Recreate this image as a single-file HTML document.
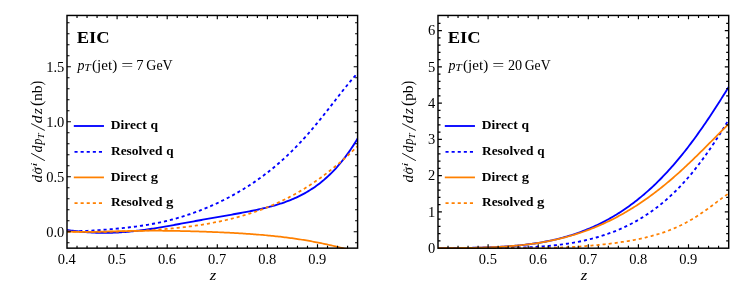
<!DOCTYPE html>
<html><head><meta charset="utf-8"><title>EIC</title>
<style>
html,body{margin:0;padding:0;background:#fff;}
body{width:753px;height:306px;overflow:hidden;}
svg{display:block;will-change:transform;}
text{font-family:"Liberation Serif",serif;fill:#000;}
.tk{font-size:14.5px;}
.b{font-weight:bold;}
.it{font-style:italic;}
</style></head>
<body>
<svg width="753" height="306" viewBox="0 0 753 306">
<rect width="753" height="306" fill="#fff"/>
<clipPath id="c1"><rect x="66.40" y="14.85" width="291.80" height="234.20"/></clipPath>
<g clip-path="url(#c1)" fill="none" stroke-linejoin="round">
<path d="M67.00,229.96 L68.46,230.17 L69.92,230.37 L71.38,230.56 L72.84,230.75 L74.30,230.93 L75.76,231.11 L77.22,231.28 L78.68,231.44 L80.14,231.59 L81.60,231.73 L83.06,231.87 L84.52,232.00 L85.98,232.12 L87.44,232.23 L88.90,232.33 L90.36,232.43 L91.83,232.51 L93.29,232.59 L94.75,232.65 L96.21,232.71 L97.67,232.76 L99.13,232.80 L100.59,232.83 L102.05,232.85 L103.51,232.86 L104.97,232.86 L106.43,232.85 L107.89,232.84 L109.35,232.81 L110.81,232.78 L112.27,232.74 L113.73,232.69 L115.19,232.63 L116.65,232.56 L118.11,232.48 L119.57,232.40 L121.03,232.30 L122.49,232.20 L123.95,232.09 L125.41,231.98 L126.87,231.85 L128.33,231.72 L129.79,231.58 L131.25,231.44 L132.71,231.28 L134.17,231.12 L135.63,230.96 L137.09,230.79 L138.55,230.61 L140.02,230.42 L141.48,230.24 L142.94,230.04 L144.40,229.84 L145.86,229.64 L147.32,229.42 L148.78,229.21 L150.24,228.99 L151.70,228.77 L153.16,228.54 L154.62,228.31 L156.08,228.07 L157.54,227.84 L159.00,227.59 L160.46,227.35 L161.92,227.10 L163.38,226.85 L164.84,226.60 L166.30,226.34 L167.76,226.09 L169.22,225.83 L170.68,225.57 L172.14,225.31 L173.60,225.04 L175.06,224.78 L176.52,224.51 L177.98,224.25 L179.44,223.98 L180.90,223.71 L182.36,223.44 L183.82,223.17 L185.28,222.91 L186.74,222.64 L188.21,222.37 L189.67,222.10 L191.13,221.83 L192.59,221.56 L194.05,221.30 L195.51,221.03 L196.97,220.76 L198.43,220.50 L199.89,220.23 L201.35,219.97 L202.81,219.70 L204.27,219.44 L205.73,219.18 L207.19,218.91 L208.65,218.65 L210.11,218.39 L211.57,218.13 L213.03,217.88 L214.49,217.62 L215.95,217.36 L217.41,217.10 L218.87,216.85 L220.33,216.59 L221.79,216.34 L223.25,216.08 L224.71,215.82 L226.17,215.57 L227.63,215.31 L229.09,215.06 L230.55,214.80 L232.01,214.54 L233.47,214.28 L234.93,214.02 L236.39,213.76 L237.86,213.50 L239.32,213.24 L240.78,212.97 L242.24,212.70 L243.70,212.43 L245.16,212.16 L246.62,211.88 L248.08,211.60 L249.54,211.32 L251.00,211.03 L252.46,210.73 L253.92,210.44 L255.38,210.13 L256.84,209.82 L258.30,209.51 L259.76,209.19 L261.22,208.86 L262.68,208.52 L264.14,208.18 L265.60,207.83 L267.06,207.47 L268.52,207.10 L269.98,206.72 L271.44,206.33 L272.90,205.93 L274.36,205.52 L275.82,205.09 L277.28,204.65 L278.74,204.20 L280.20,203.74 L281.66,203.26 L283.12,202.77 L284.58,202.26 L286.05,201.73 L287.51,201.19 L288.97,200.63 L290.43,200.05 L291.89,199.46 L293.35,198.84 L294.81,198.20 L296.27,197.54 L297.73,196.86 L299.19,196.15 L300.65,195.43 L302.11,194.67 L303.57,193.89 L305.03,193.09 L306.49,192.26 L307.95,191.40 L309.41,190.51 L310.87,189.59 L312.33,188.64 L313.79,187.66 L315.25,186.65 L316.71,185.61 L318.17,184.52 L319.63,183.41 L321.09,182.26 L322.55,181.07 L324.01,179.84 L325.47,178.57 L326.93,177.27 L328.39,175.92 L329.85,174.53 L331.31,173.09 L332.77,171.62 L334.24,170.09 L335.70,168.52 L337.16,166.90 L338.62,165.23 L340.08,163.52 L341.54,161.75 L343.00,159.93 L344.46,158.05 L345.92,156.12 L347.38,154.14 L348.84,152.10 L350.30,150.00 L351.76,147.84 L353.22,145.62 L354.68,143.34 L356.14,141.00 L357.60,138.59" stroke="#0000ff" stroke-width="1.85"/>
<path d="M67.00,230.79 L68.46,230.88 L69.92,230.96 L71.38,231.01 L72.84,231.06 L74.30,231.08 L75.76,231.09 L77.22,231.09 L78.68,231.08 L80.14,231.06 L81.60,231.02 L83.06,230.98 L84.52,230.93 L85.98,230.87 L87.44,230.81 L88.90,230.74 L90.36,230.67 L91.83,230.58 L93.29,230.50 L94.75,230.41 L96.21,230.32 L97.67,230.22 L99.13,230.12 L100.59,230.01 L102.05,229.91 L103.51,229.80 L104.97,229.68 L106.43,229.57 L107.89,229.45 L109.35,229.33 L110.81,229.20 L112.27,229.08 L113.73,228.95 L115.19,228.81 L116.65,228.68 L118.11,228.54 L119.57,228.39 L121.03,228.25 L122.49,228.10 L123.95,227.94 L125.41,227.78 L126.87,227.62 L128.33,227.46 L129.79,227.28 L131.25,227.11 L132.71,226.93 L134.17,226.74 L135.63,226.55 L137.09,226.35 L138.55,226.15 L140.02,225.94 L141.48,225.73 L142.94,225.51 L144.40,225.28 L145.86,225.05 L147.32,224.81 L148.78,224.56 L150.24,224.30 L151.70,224.04 L153.16,223.77 L154.62,223.49 L156.08,223.21 L157.54,222.92 L159.00,222.62 L160.46,222.31 L161.92,221.99 L163.38,221.66 L164.84,221.33 L166.30,220.98 L167.76,220.63 L169.22,220.27 L170.68,219.90 L172.14,219.52 L173.60,219.14 L175.06,218.74 L176.52,218.33 L177.98,217.92 L179.44,217.49 L180.90,217.06 L182.36,216.61 L183.82,216.16 L185.28,215.70 L186.74,215.23 L188.21,214.74 L189.67,214.25 L191.13,213.75 L192.59,213.24 L194.05,212.72 L195.51,212.19 L196.97,211.65 L198.43,211.10 L199.89,210.54 L201.35,209.97 L202.81,209.39 L204.27,208.80 L205.73,208.20 L207.19,207.59 L208.65,206.97 L210.11,206.35 L211.57,205.71 L213.03,205.06 L214.49,204.40 L215.95,203.73 L217.41,203.05 L218.87,202.36 L220.33,201.65 L221.79,200.94 L223.25,200.22 L224.71,199.49 L226.17,198.74 L227.63,197.99 L229.09,197.22 L230.55,196.45 L232.01,195.66 L233.47,194.86 L234.93,194.05 L236.39,193.22 L237.86,192.39 L239.32,191.54 L240.78,190.68 L242.24,189.81 L243.70,188.93 L245.16,188.03 L246.62,187.12 L248.08,186.20 L249.54,185.26 L251.00,184.31 L252.46,183.35 L253.92,182.37 L255.38,181.38 L256.84,180.37 L258.30,179.35 L259.76,178.31 L261.22,177.26 L262.68,176.19 L264.14,175.10 L265.60,174.00 L267.06,172.89 L268.52,171.75 L269.98,170.60 L271.44,169.43 L272.90,168.25 L274.36,167.04 L275.82,165.82 L277.28,164.58 L278.74,163.32 L280.20,162.04 L281.66,160.75 L283.12,159.43 L284.58,158.10 L286.05,156.74 L287.51,155.37 L288.97,153.97 L290.43,152.56 L291.89,151.12 L293.35,149.67 L294.81,148.19 L296.27,146.70 L297.73,145.18 L299.19,143.64 L300.65,142.09 L302.11,140.51 L303.57,138.91 L305.03,137.30 L306.49,135.66 L307.95,134.00 L309.41,132.33 L310.87,130.64 L312.33,128.93 L313.79,127.20 L315.25,125.45 L316.71,123.69 L318.17,121.91 L319.63,120.12 L321.09,118.31 L322.55,116.49 L324.01,114.66 L325.47,112.82 L326.93,110.97 L328.39,109.11 L329.85,107.24 L331.31,105.37 L332.77,103.49 L334.24,101.61 L335.70,99.73 L337.16,97.86 L338.62,95.98 L340.08,94.12 L341.54,92.26 L343.00,90.41 L344.46,88.58 L345.92,86.76 L347.38,84.96 L348.84,83.18 L350.30,81.44 L351.76,79.72 L353.22,78.03 L354.68,76.38 L356.14,74.77 L357.60,73.21" stroke="#0000ff" stroke-width="1.85" stroke-dasharray="3.1 3"/>
<path d="M67.00,231.53 L68.46,231.61 L69.92,231.68 L71.38,231.73 L72.84,231.78 L74.30,231.83 L75.76,231.86 L77.22,231.89 L78.68,231.91 L80.14,231.92 L81.60,231.93 L83.06,231.93 L84.52,231.93 L85.98,231.92 L87.44,231.91 L88.90,231.90 L90.36,231.88 L91.83,231.86 L93.29,231.83 L94.75,231.80 L96.21,231.77 L97.67,231.74 L99.13,231.71 L100.59,231.68 L102.05,231.64 L103.51,231.60 L104.97,231.57 L106.43,231.53 L107.89,231.49 L109.35,231.45 L110.81,231.41 L112.27,231.37 L113.73,231.33 L115.19,231.29 L116.65,231.26 L118.11,231.22 L119.57,231.18 L121.03,231.15 L122.49,231.11 L123.95,231.08 L125.41,231.05 L126.87,231.02 L128.33,230.99 L129.79,230.96 L131.25,230.93 L132.71,230.91 L134.17,230.88 L135.63,230.86 L137.09,230.84 L138.55,230.82 L140.02,230.80 L141.48,230.79 L142.94,230.77 L144.40,230.76 L145.86,230.75 L147.32,230.74 L148.78,230.74 L150.24,230.73 L151.70,230.73 L153.16,230.73 L154.62,230.73 L156.08,230.73 L157.54,230.73 L159.00,230.74 L160.46,230.74 L161.92,230.75 L163.38,230.76 L164.84,230.78 L166.30,230.79 L167.76,230.81 L169.22,230.82 L170.68,230.84 L172.14,230.86 L173.60,230.88 L175.06,230.91 L176.52,230.93 L177.98,230.96 L179.44,230.99 L180.90,231.02 L182.36,231.05 L183.82,231.08 L185.28,231.12 L186.74,231.15 L188.21,231.19 L189.67,231.22 L191.13,231.26 L192.59,231.30 L194.05,231.35 L195.51,231.39 L196.97,231.43 L198.43,231.48 L199.89,231.53 L201.35,231.57 L202.81,231.62 L204.27,231.68 L205.73,231.73 L207.19,231.78 L208.65,231.84 L210.11,231.89 L211.57,231.95 L213.03,232.01 L214.49,232.07 L215.95,232.13 L217.41,232.19 L218.87,232.25 L220.33,232.32 L221.79,232.39 L223.25,232.45 L224.71,232.52 L226.17,232.59 L227.63,232.67 L229.09,232.74 L230.55,232.82 L232.01,232.89 L233.47,232.97 L234.93,233.05 L236.39,233.14 L237.86,233.22 L239.32,233.31 L240.78,233.40 L242.24,233.49 L243.70,233.58 L245.16,233.67 L246.62,233.77 L248.08,233.87 L249.54,233.97 L251.00,234.07 L252.46,234.18 L253.92,234.29 L255.38,234.40 L256.84,234.51 L258.30,234.63 L259.76,234.75 L261.22,234.87 L262.68,234.99 L264.14,235.12 L265.60,235.25 L267.06,235.38 L268.52,235.52 L269.98,235.66 L271.44,235.80 L272.90,235.95 L274.36,236.10 L275.82,236.26 L277.28,236.42 L278.74,236.58 L280.20,236.74 L281.66,236.91 L283.12,237.09 L284.58,237.26 L286.05,237.45 L287.51,237.63 L288.97,237.82 L290.43,238.02 L291.89,238.22 L293.35,238.42 L294.81,238.63 L296.27,238.84 L297.73,239.06 L299.19,239.28 L300.65,239.51 L302.11,239.74 L303.57,239.97 L305.03,240.22 L306.49,240.46 L307.95,240.71 L309.41,240.97 L310.87,241.23 L312.33,241.50 L313.79,241.77 L315.25,242.04 L316.71,242.33 L318.17,242.61 L319.63,242.90 L321.09,243.20 L322.55,243.50 L324.01,243.81 L325.47,244.12 L326.93,244.44 L328.39,244.76 L329.85,245.08 L331.31,245.42 L332.77,245.75 L334.24,246.09 L335.70,246.43 L337.16,246.78 L338.62,247.14 L340.08,247.49 L341.54,247.85 L343.00,248.22 L344.46,248.59 L345.92,248.96 L347.38,249.33 L348.84,249.71 L350.30,250.09 L351.76,250.48 L353.22,250.86 L354.68,251.25 L356.14,251.64 L357.60,252.04" stroke="#ff8000" stroke-width="1.75"/>
<path d="M67.00,231.56 L68.46,231.59 L69.92,231.63 L71.38,231.66 L72.84,231.69 L74.30,231.72 L75.76,231.74 L77.22,231.76 L78.68,231.79 L80.14,231.81 L81.60,231.82 L83.06,231.84 L84.52,231.85 L85.98,231.87 L87.44,231.88 L88.90,231.89 L90.36,231.89 L91.83,231.90 L93.29,231.90 L94.75,231.90 L96.21,231.89 L97.67,231.89 L99.13,231.88 L100.59,231.88 L102.05,231.86 L103.51,231.85 L104.97,231.84 L106.43,231.82 L107.89,231.80 L109.35,231.78 L110.81,231.75 L112.27,231.73 L113.73,231.70 L115.19,231.67 L116.65,231.64 L118.11,231.60 L119.57,231.56 L121.03,231.52 L122.49,231.48 L123.95,231.44 L125.41,231.39 L126.87,231.34 L128.33,231.29 L129.79,231.23 L131.25,231.18 L132.71,231.12 L134.17,231.05 L135.63,230.99 L137.09,230.92 L138.55,230.85 L140.02,230.78 L141.48,230.71 L142.94,230.63 L144.40,230.55 L145.86,230.46 L147.32,230.38 L148.78,230.29 L150.24,230.20 L151.70,230.10 L153.16,230.01 L154.62,229.90 L156.08,229.80 L157.54,229.69 L159.00,229.58 L160.46,229.47 L161.92,229.36 L163.38,229.24 L164.84,229.11 L166.30,228.99 L167.76,228.86 L169.22,228.72 L170.68,228.59 L172.14,228.45 L173.60,228.30 L175.06,228.15 L176.52,228.00 L177.98,227.85 L179.44,227.69 L180.90,227.52 L182.36,227.36 L183.82,227.19 L185.28,227.01 L186.74,226.83 L188.21,226.64 L189.67,226.46 L191.13,226.26 L192.59,226.06 L194.05,225.86 L195.51,225.65 L196.97,225.44 L198.43,225.22 L199.89,225.00 L201.35,224.77 L202.81,224.54 L204.27,224.30 L205.73,224.06 L207.19,223.81 L208.65,223.55 L210.11,223.29 L211.57,223.02 L213.03,222.75 L214.49,222.47 L215.95,222.19 L217.41,221.90 L218.87,221.60 L220.33,221.29 L221.79,220.98 L223.25,220.66 L224.71,220.34 L226.17,220.01 L227.63,219.67 L229.09,219.32 L230.55,218.97 L232.01,218.61 L233.47,218.24 L234.93,217.87 L236.39,217.48 L237.86,217.09 L239.32,216.69 L240.78,216.28 L242.24,215.87 L243.70,215.44 L245.16,215.01 L246.62,214.57 L248.08,214.12 L249.54,213.66 L251.00,213.19 L252.46,212.71 L253.92,212.22 L255.38,211.72 L256.84,211.22 L258.30,210.70 L259.76,210.17 L261.22,209.64 L262.68,209.09 L264.14,208.53 L265.60,207.97 L267.06,207.39 L268.52,206.80 L269.98,206.20 L271.44,205.59 L272.90,204.97 L274.36,204.33 L275.82,203.69 L277.28,203.03 L278.74,202.37 L280.20,201.69 L281.66,201.00 L283.12,200.29 L284.58,199.58 L286.05,198.85 L287.51,198.11 L288.97,197.36 L290.43,196.59 L291.89,195.82 L293.35,195.03 L294.81,194.22 L296.27,193.41 L297.73,192.58 L299.19,191.73 L300.65,190.88 L302.11,190.01 L303.57,189.12 L305.03,188.23 L306.49,187.31 L307.95,186.39 L309.41,185.45 L310.87,184.50 L312.33,183.53 L313.79,182.55 L315.25,181.55 L316.71,180.54 L318.17,179.51 L319.63,178.47 L321.09,177.42 L322.55,176.35 L324.01,175.26 L325.47,174.17 L326.93,173.05 L328.39,171.92 L329.85,170.78 L331.31,169.62 L332.77,168.44 L334.24,167.25 L335.70,166.05 L337.16,164.83 L338.62,163.59 L340.08,162.34 L341.54,161.07 L343.00,159.79 L344.46,158.50 L345.92,157.18 L347.38,155.86 L348.84,154.51 L350.30,153.15 L351.76,151.78 L353.22,150.39 L354.68,148.99 L356.14,147.57 L357.60,146.13" stroke="#ff8000" stroke-width="1.75" stroke-dasharray="3.1 3"/>
</g>
<rect x="67.0" y="15.45" width="290.60" height="232.70" fill="none" stroke="#000" stroke-width="1.45"/>
<path d="M117.10,248.15 v-3.9 M117.10,15.45 v3.9 M167.20,248.15 v-3.9 M167.20,15.45 v3.9 M217.30,248.15 v-3.9 M217.30,15.45 v3.9 M267.40,248.15 v-3.9 M267.40,15.45 v3.9 M317.50,248.15 v-3.9 M317.50,15.45 v3.9 M77.02,248.15 v-2.5 M77.02,15.45 v2.5 M87.04,248.15 v-2.5 M87.04,15.45 v2.5 M97.06,248.15 v-2.5 M97.06,15.45 v2.5 M107.08,248.15 v-2.5 M107.08,15.45 v2.5 M127.12,248.15 v-2.5 M127.12,15.45 v2.5 M137.14,248.15 v-2.5 M137.14,15.45 v2.5 M147.16,248.15 v-2.5 M147.16,15.45 v2.5 M157.18,248.15 v-2.5 M157.18,15.45 v2.5 M177.22,248.15 v-2.5 M177.22,15.45 v2.5 M187.24,248.15 v-2.5 M187.24,15.45 v2.5 M197.26,248.15 v-2.5 M197.26,15.45 v2.5 M207.28,248.15 v-2.5 M207.28,15.45 v2.5 M227.32,248.15 v-2.5 M227.32,15.45 v2.5 M237.34,248.15 v-2.5 M237.34,15.45 v2.5 M247.36,248.15 v-2.5 M247.36,15.45 v2.5 M257.38,248.15 v-2.5 M257.38,15.45 v2.5 M277.42,248.15 v-2.5 M277.42,15.45 v2.5 M287.44,248.15 v-2.5 M287.44,15.45 v2.5 M297.46,248.15 v-2.5 M297.46,15.45 v2.5 M307.48,248.15 v-2.5 M307.48,15.45 v2.5 M327.52,248.15 v-2.5 M327.52,15.45 v2.5 M337.54,248.15 v-2.5 M337.54,15.45 v2.5 M347.56,248.15 v-2.5 M347.56,15.45 v2.5 M67.0,231.75 h3.9 M357.6,231.75 h-3.9 M67.0,176.75 h3.9 M357.6,176.75 h-3.9 M67.0,121.75 h3.9 M357.6,121.75 h-3.9 M67.0,66.75 h3.9 M357.6,66.75 h-3.9 M67.0,242.75 h2.5 M357.6,242.75 h-2.5 M67.0,220.75 h2.5 M357.6,220.75 h-2.5 M67.0,209.75 h2.5 M357.6,209.75 h-2.5 M67.0,198.75 h2.5 M357.6,198.75 h-2.5 M67.0,187.75 h2.5 M357.6,187.75 h-2.5 M67.0,165.75 h2.5 M357.6,165.75 h-2.5 M67.0,154.75 h2.5 M357.6,154.75 h-2.5 M67.0,143.75 h2.5 M357.6,143.75 h-2.5 M67.0,132.75 h2.5 M357.6,132.75 h-2.5 M67.0,110.75 h2.5 M357.6,110.75 h-2.5 M67.0,99.75 h2.5 M357.6,99.75 h-2.5 M67.0,88.75 h2.5 M357.6,88.75 h-2.5 M67.0,77.75 h2.5 M357.6,77.75 h-2.5 M67.0,55.75 h2.5 M357.6,55.75 h-2.5 M67.0,44.75 h2.5 M357.6,44.75 h-2.5 M67.0,33.75 h2.5 M357.6,33.75 h-2.5 M67.0,22.75 h2.5 M357.6,22.75 h-2.5" stroke="#000" stroke-width="1.15" fill="none"/>
<path d="M73.80,126.0 H103.95" stroke="#0000ff" stroke-width="1.85" fill="none"/>
<text transform="translate(110.83,129.10) scale(1.084,1.000)" class="b" style="font-size:12.5px">Direct</text>
<text transform="translate(150.56,129.10) scale(1.082,1.000)" class="b" style="font-size:12.5px">q</text>
<path d="M74.50,151.8 H103.95" stroke="#0000ff" stroke-width="1.85" stroke-dasharray="3.1 3" fill="none"/>
<text transform="translate(110.93,154.90) scale(1.076,1.000)" class="b" style="font-size:12.5px">Resolved</text>
<text transform="translate(166.27,154.90) scale(1.051,1.000)" class="b" style="font-size:12.5px">q</text>
<path d="M73.80,177.4 H103.95" stroke="#ff8000" stroke-width="1.75" fill="none"/>
<text transform="translate(110.83,180.50) scale(1.084,1.000)" class="b" style="font-size:12.5px">Direct</text>
<text transform="translate(150.76,180.50) scale(1.165,1.000)" class="b" style="font-size:12.5px">g</text>
<path d="M74.50,203.1 H103.95" stroke="#ff8000" stroke-width="1.75" stroke-dasharray="3.1 3" fill="none"/>
<text transform="translate(110.93,206.20) scale(1.076,1.000)" class="b" style="font-size:12.5px">Resolved</text>
<text transform="translate(165.96,206.20) scale(1.183,1.000)" class="b" style="font-size:12.5px">g</text>
<text transform="translate(76.73,42.70) scale(1.089,1.000)" class="b" style="font-size:17px">EIC</text>
<text transform="translate(77.38,70.00) scale(0.897,1.000)" class="it" style="font-size:15.6px">p</text>
<text transform="translate(84.14,71.00) scale(1.219,0.976)" class="it" style="font-size:9.6px">T</text>
<text transform="translate(92.07,70.00) scale(0.967,1.000)" style="font-size:15.6px">(jet)</text>
<text transform="translate(121.28,70.00) scale(1.366,1.000)" style="font-size:15.6px">=</text>
<text transform="translate(136.26,70.00) scale(0.941,1.000)" style="font-size:15.6px">7</text>
<text transform="translate(146.34,70.00) scale(0.894,1.000)" style="font-size:15.6px">GeV</text>
<text x="66.80" y="264.0" class="tk" text-anchor="middle">0.4</text>
<text x="116.90" y="264.0" class="tk" text-anchor="middle">0.5</text>
<text x="167.00" y="264.0" class="tk" text-anchor="middle">0.6</text>
<text x="217.10" y="264.0" class="tk" text-anchor="middle">0.7</text>
<text x="267.20" y="264.0" class="tk" text-anchor="middle">0.8</text>
<text x="317.30" y="264.0" class="tk" text-anchor="middle">0.9</text>
<text x="64.30" y="236.60" class="tk" text-anchor="end">0.0</text>
<text x="64.30" y="181.60" class="tk" text-anchor="end">0.5</text>
<text x="64.30" y="126.60" class="tk" text-anchor="end">1.0</text>
<text x="64.30" y="71.60" class="tk" text-anchor="end">1.5</text>
<text transform="translate(209.84,279.60) scale(1.120,1.000)" class="it" style="font-size:14.8px">z</text>
<g transform="translate(42.10,182.1) rotate(-90)">
<text transform="translate(-0.51,0.00) scale(1.018,1.000)" class="it" style="font-size:14.8px">d</text>
<text transform="translate(7.70,0.00) scale(1.007,1.000)" class="it" style="font-size:14.8px">σ</text>
<text transform="translate(10.12,-6.60) scale(0.716,0.505)" style="font-size:11px">^</text>
<text transform="translate(15.67,-5.40) scale(1.662,1.000)" class="it" style="font-size:8.6px">i</text>
<path d="M21.45,2.70 L28.85,-10.90" stroke="#000" stroke-width="0.9" fill="none"/>
<text transform="translate(29.63,0.00) scale(0.945,1.000)" class="it" style="font-size:14.8px">d</text>
<text transform="translate(37.29,0.00) scale(0.788,1.000)" class="it" style="font-size:15.6px">p</text>
<text transform="translate(43.05,1.40) scale(1.048,0.896)" class="it" style="font-size:9.6px">T</text>
<path d="M51.65,2.70 L58.55,-10.90" stroke="#000" stroke-width="0.9" fill="none"/>
<text transform="translate(58.97,0.00) scale(1.062,1.000)" class="it" style="font-size:14.8px">d</text>
<text transform="translate(67.83,0.00) scale(1.049,1.000)" class="it" style="font-size:14.8px">z</text>
<text transform="translate(76.14,0.30) scale(1.058,1.102)" style="font-size:14.8px">(</text>
<text transform="translate(81.00,0.00) scale(1.059,1.000)" style="font-size:14.8px">nb</text>
<text transform="translate(96.52,0.30) scale(0.960,1.102)" style="font-size:14.8px">)</text>
</g>
<clipPath id="c2"><rect x="437.40" y="14.85" width="291.90" height="234.25"/></clipPath>
<g clip-path="url(#c2)" fill="none" stroke-linejoin="round">
<path d="M438.00,248.11 L439.46,248.10 L440.92,248.10 L442.38,248.09 L443.84,248.08 L445.30,248.08 L446.76,248.07 L448.23,248.06 L449.69,248.05 L451.15,248.04 L452.61,248.03 L454.07,248.02 L455.53,248.01 L456.99,248.00 L458.45,247.98 L459.91,247.97 L461.37,247.95 L462.83,247.94 L464.29,247.92 L465.76,247.90 L467.22,247.88 L468.68,247.85 L470.14,247.83 L471.60,247.80 L473.06,247.78 L474.52,247.75 L475.98,247.72 L477.44,247.68 L478.90,247.65 L480.36,247.61 L481.82,247.57 L483.28,247.53 L484.75,247.48 L486.21,247.43 L487.67,247.38 L489.13,247.33 L490.59,247.27 L492.05,247.21 L493.51,247.15 L494.97,247.08 L496.43,247.01 L497.89,246.94 L499.35,246.86 L500.81,246.78 L502.28,246.70 L503.74,246.61 L505.20,246.51 L506.66,246.41 L508.12,246.31 L509.58,246.20 L511.04,246.09 L512.50,245.97 L513.96,245.85 L515.42,245.72 L516.88,245.59 L518.34,245.45 L519.81,245.30 L521.27,245.15 L522.73,244.99 L524.19,244.83 L525.65,244.66 L527.11,244.48 L528.57,244.29 L530.03,244.10 L531.49,243.90 L532.95,243.70 L534.41,243.48 L535.87,243.26 L537.33,243.04 L538.80,242.80 L540.26,242.55 L541.72,242.30 L543.18,242.04 L544.64,241.77 L546.10,241.49 L547.56,241.20 L549.02,240.91 L550.48,240.60 L551.94,240.28 L553.40,239.96 L554.86,239.62 L556.33,239.28 L557.79,238.93 L559.25,238.56 L560.71,238.19 L562.17,237.80 L563.63,237.40 L565.09,237.00 L566.55,236.58 L568.01,236.15 L569.47,235.71 L570.93,235.26 L572.39,234.79 L573.85,234.32 L575.32,233.83 L576.78,233.33 L578.24,232.82 L579.70,232.29 L581.16,231.76 L582.62,231.21 L584.08,230.64 L585.54,230.07 L587.00,229.48 L588.46,228.88 L589.92,228.26 L591.38,227.63 L592.85,226.99 L594.31,226.33 L595.77,225.66 L597.23,224.97 L598.69,224.27 L600.15,223.56 L601.61,222.83 L603.07,222.08 L604.53,221.32 L605.99,220.55 L607.45,219.76 L608.91,218.95 L610.37,218.13 L611.84,217.29 L613.30,216.44 L614.76,215.56 L616.22,214.68 L617.68,213.77 L619.14,212.85 L620.60,211.91 L622.06,210.96 L623.52,209.98 L624.98,208.99 L626.44,207.98 L627.90,206.96 L629.37,205.91 L630.83,204.85 L632.29,203.77 L633.75,202.67 L635.21,201.55 L636.67,200.41 L638.13,199.25 L639.59,198.08 L641.05,196.88 L642.51,195.66 L643.97,194.43 L645.43,193.17 L646.89,191.90 L648.36,190.60 L649.82,189.28 L651.28,187.95 L652.74,186.59 L654.20,185.21 L655.66,183.81 L657.12,182.38 L658.58,180.94 L660.04,179.48 L661.50,177.99 L662.96,176.48 L664.42,174.95 L665.89,173.40 L667.35,171.82 L668.81,170.23 L670.27,168.61 L671.73,166.97 L673.19,165.30 L674.65,163.62 L676.11,161.91 L677.57,160.18 L679.03,158.43 L680.49,156.65 L681.95,154.86 L683.42,153.04 L684.88,151.20 L686.34,149.33 L687.80,147.45 L689.26,145.54 L690.72,143.61 L692.18,141.66 L693.64,139.69 L695.10,137.70 L696.56,135.68 L698.02,133.65 L699.48,131.59 L700.94,129.52 L702.41,127.42 L703.87,125.31 L705.33,123.18 L706.79,121.03 L708.25,118.86 L709.71,116.67 L711.17,114.47 L712.63,112.25 L714.09,110.01 L715.55,107.76 L717.01,105.50 L718.47,103.22 L719.94,100.93 L721.40,98.62 L722.86,96.31 L724.32,93.98 L725.78,91.65 L727.24,89.30 L728.70,86.95" stroke="#0000ff" stroke-width="1.85"/>
<path d="M438.00,248.15 L439.46,248.15 L440.92,248.15 L442.38,248.15 L443.84,248.15 L445.30,248.15 L446.76,248.15 L448.23,248.15 L449.69,248.15 L451.15,248.15 L452.61,248.15 L454.07,248.14 L455.53,248.14 L456.99,248.14 L458.45,248.14 L459.91,248.14 L461.37,248.14 L462.83,248.14 L464.29,248.14 L465.76,248.13 L467.22,248.13 L468.68,248.13 L470.14,248.13 L471.60,248.13 L473.06,248.12 L474.52,248.12 L475.98,248.11 L477.44,248.11 L478.90,248.11 L480.36,248.10 L481.82,248.09 L483.28,248.09 L484.75,248.08 L486.21,248.07 L487.67,248.06 L489.13,248.05 L490.59,248.04 L492.05,248.03 L493.51,248.02 L494.97,248.01 L496.43,247.99 L497.89,247.98 L499.35,247.96 L500.81,247.94 L502.28,247.92 L503.74,247.90 L505.20,247.88 L506.66,247.86 L508.12,247.83 L509.58,247.80 L511.04,247.77 L512.50,247.74 L513.96,247.70 L515.42,247.67 L516.88,247.63 L518.34,247.58 L519.81,247.54 L521.27,247.49 L522.73,247.44 L524.19,247.39 L525.65,247.33 L527.11,247.27 L528.57,247.20 L530.03,247.14 L531.49,247.07 L532.95,246.99 L534.41,246.91 L535.87,246.83 L537.33,246.74 L538.80,246.64 L540.26,246.55 L541.72,246.44 L543.18,246.33 L544.64,246.22 L546.10,246.10 L547.56,245.98 L549.02,245.85 L550.48,245.71 L551.94,245.57 L553.40,245.42 L554.86,245.27 L556.33,245.11 L557.79,244.94 L559.25,244.77 L560.71,244.59 L562.17,244.40 L563.63,244.20 L565.09,244.00 L566.55,243.79 L568.01,243.57 L569.47,243.34 L570.93,243.11 L572.39,242.86 L573.85,242.61 L575.32,242.35 L576.78,242.08 L578.24,241.80 L579.70,241.51 L581.16,241.21 L582.62,240.90 L584.08,240.59 L585.54,240.26 L587.00,239.92 L588.46,239.57 L589.92,239.21 L591.38,238.84 L592.85,238.46 L594.31,238.07 L595.77,237.67 L597.23,237.25 L598.69,236.83 L600.15,236.39 L601.61,235.94 L603.07,235.47 L604.53,235.00 L605.99,234.51 L607.45,234.00 L608.91,233.49 L610.37,232.96 L611.84,232.42 L613.30,231.86 L614.76,231.29 L616.22,230.70 L617.68,230.10 L619.14,229.49 L620.60,228.85 L622.06,228.21 L623.52,227.55 L624.98,226.87 L626.44,226.17 L627.90,225.46 L629.37,224.73 L630.83,223.99 L632.29,223.22 L633.75,222.44 L635.21,221.64 L636.67,220.82 L638.13,219.99 L639.59,219.13 L641.05,218.26 L642.51,217.36 L643.97,216.45 L645.43,215.51 L646.89,214.55 L648.36,213.58 L649.82,212.58 L651.28,211.56 L652.74,210.51 L654.20,209.45 L655.66,208.36 L657.12,207.25 L658.58,206.12 L660.04,204.96 L661.50,203.78 L662.96,202.57 L664.42,201.34 L665.89,200.08 L667.35,198.80 L668.81,197.49 L670.27,196.15 L671.73,194.79 L673.19,193.40 L674.65,191.99 L676.11,190.54 L677.57,189.07 L679.03,187.58 L680.49,186.05 L681.95,184.49 L683.42,182.91 L684.88,181.30 L686.34,179.66 L687.80,177.99 L689.26,176.29 L690.72,174.56 L692.18,172.80 L693.64,171.01 L695.10,169.19 L696.56,167.34 L698.02,165.46 L699.48,163.56 L700.94,161.62 L702.41,159.65 L703.87,157.66 L705.33,155.63 L706.79,153.58 L708.25,151.50 L709.71,149.39 L711.17,147.25 L712.63,145.09 L714.09,142.90 L715.55,140.68 L717.01,138.44 L718.47,136.18 L719.94,133.89 L721.40,131.58 L722.86,129.25 L724.32,126.89 L725.78,124.52 L727.24,122.13 L728.70,119.72" stroke="#0000ff" stroke-width="1.85" stroke-dasharray="3.1 3"/>
<path d="M438.00,248.11 L439.46,248.10 L440.92,248.10 L442.38,248.09 L443.84,248.09 L445.30,248.08 L446.76,248.07 L448.23,248.07 L449.69,248.06 L451.15,248.05 L452.61,248.04 L454.07,248.03 L455.53,248.01 L456.99,248.00 L458.45,247.99 L459.91,247.97 L461.37,247.96 L462.83,247.94 L464.29,247.92 L465.76,247.90 L467.22,247.88 L468.68,247.86 L470.14,247.83 L471.60,247.81 L473.06,247.78 L474.52,247.75 L475.98,247.72 L477.44,247.69 L478.90,247.65 L480.36,247.61 L481.82,247.57 L483.28,247.53 L484.75,247.48 L486.21,247.43 L487.67,247.38 L489.13,247.33 L490.59,247.27 L492.05,247.21 L493.51,247.15 L494.97,247.08 L496.43,247.01 L497.89,246.94 L499.35,246.86 L500.81,246.78 L502.28,246.69 L503.74,246.60 L505.20,246.51 L506.66,246.41 L508.12,246.31 L509.58,246.20 L511.04,246.09 L512.50,245.97 L513.96,245.85 L515.42,245.72 L516.88,245.59 L518.34,245.45 L519.81,245.30 L521.27,245.15 L522.73,245.00 L524.19,244.83 L525.65,244.67 L527.11,244.49 L528.57,244.31 L530.03,244.12 L531.49,243.93 L532.95,243.73 L534.41,243.52 L535.87,243.30 L537.33,243.08 L538.80,242.85 L540.26,242.61 L541.72,242.37 L543.18,242.12 L544.64,241.85 L546.10,241.59 L547.56,241.31 L549.02,241.02 L550.48,240.73 L551.94,240.43 L553.40,240.12 L554.86,239.80 L556.33,239.48 L557.79,239.14 L559.25,238.79 L560.71,238.44 L562.17,238.08 L563.63,237.70 L565.09,237.32 L566.55,236.93 L568.01,236.53 L569.47,236.12 L570.93,235.70 L572.39,235.27 L573.85,234.83 L575.32,234.38 L576.78,233.92 L578.24,233.45 L579.70,232.97 L581.16,232.48 L582.62,231.98 L584.08,231.47 L585.54,230.95 L587.00,230.42 L588.46,229.87 L589.92,229.32 L591.38,228.75 L592.85,228.18 L594.31,227.59 L595.77,226.99 L597.23,226.38 L598.69,225.76 L600.15,225.13 L601.61,224.49 L603.07,223.83 L604.53,223.17 L605.99,222.49 L607.45,221.80 L608.91,221.10 L610.37,220.38 L611.84,219.66 L613.30,218.92 L614.76,218.17 L616.22,217.41 L617.68,216.63 L619.14,215.85 L620.60,215.05 L622.06,214.24 L623.52,213.41 L624.98,212.58 L626.44,211.73 L627.90,210.87 L629.37,209.99 L630.83,209.11 L632.29,208.21 L633.75,207.29 L635.21,206.37 L636.67,205.43 L638.13,204.48 L639.59,203.51 L641.05,202.54 L642.51,201.55 L643.97,200.54 L645.43,199.52 L646.89,198.49 L648.36,197.45 L649.82,196.40 L651.28,195.33 L652.74,194.24 L654.20,193.15 L655.66,192.04 L657.12,190.92 L658.58,189.78 L660.04,188.63 L661.50,187.47 L662.96,186.30 L664.42,185.11 L665.89,183.91 L667.35,182.70 L668.81,181.47 L670.27,180.24 L671.73,178.99 L673.19,177.73 L674.65,176.45 L676.11,175.17 L677.57,173.87 L679.03,172.56 L680.49,171.24 L681.95,169.91 L683.42,168.57 L684.88,167.22 L686.34,165.85 L687.80,164.48 L689.26,163.10 L690.72,161.71 L692.18,160.31 L693.64,158.90 L695.10,157.48 L696.56,156.06 L698.02,154.63 L699.48,153.19 L700.94,151.74 L702.41,150.29 L703.87,148.84 L705.33,147.38 L706.79,145.91 L708.25,144.44 L709.71,142.97 L711.17,141.50 L712.63,140.03 L714.09,138.55 L715.55,137.08 L717.01,135.60 L718.47,134.13 L719.94,132.66 L721.40,131.19 L722.86,129.73 L724.32,128.28 L725.78,126.83 L727.24,125.38 L728.70,123.95" stroke="#ff8000" stroke-width="1.75"/>
<path d="M438.00,248.15 L439.46,248.15 L440.92,248.15 L442.38,248.15 L443.84,248.15 L445.30,248.15 L446.76,248.15 L448.23,248.15 L449.69,248.15 L451.15,248.15 L452.61,248.15 L454.07,248.15 L455.53,248.15 L456.99,248.15 L458.45,248.15 L459.91,248.15 L461.37,248.15 L462.83,248.15 L464.29,248.15 L465.76,248.15 L467.22,248.15 L468.68,248.15 L470.14,248.15 L471.60,248.15 L473.06,248.15 L474.52,248.15 L475.98,248.15 L477.44,248.15 L478.90,248.15 L480.36,248.15 L481.82,248.15 L483.28,248.15 L484.75,248.15 L486.21,248.15 L487.67,248.15 L489.13,248.15 L490.59,248.15 L492.05,248.15 L493.51,248.15 L494.97,248.15 L496.43,248.15 L497.89,248.15 L499.35,248.15 L500.81,248.15 L502.28,248.15 L503.74,248.15 L505.20,248.15 L506.66,248.15 L508.12,248.14 L509.58,248.14 L511.04,248.14 L512.50,248.14 L513.96,248.14 L515.42,248.14 L516.88,248.13 L518.34,248.13 L519.81,248.13 L521.27,248.12 L522.73,248.12 L524.19,248.11 L525.65,248.11 L527.11,248.10 L528.57,248.09 L530.03,248.08 L531.49,248.07 L532.95,248.06 L534.41,248.05 L535.87,248.04 L537.33,248.02 L538.80,248.01 L540.26,247.99 L541.72,247.97 L543.18,247.95 L544.64,247.92 L546.10,247.90 L547.56,247.87 L549.02,247.84 L550.48,247.80 L551.94,247.77 L553.40,247.73 L554.86,247.69 L556.33,247.64 L557.79,247.60 L559.25,247.55 L560.71,247.50 L562.17,247.44 L563.63,247.38 L565.09,247.32 L566.55,247.25 L568.01,247.18 L569.47,247.11 L570.93,247.04 L572.39,246.96 L573.85,246.87 L575.32,246.79 L576.78,246.70 L578.24,246.61 L579.70,246.51 L581.16,246.41 L582.62,246.30 L584.08,246.20 L585.54,246.08 L587.00,245.97 L588.46,245.85 L589.92,245.73 L591.38,245.60 L592.85,245.47 L594.31,245.33 L595.77,245.20 L597.23,245.05 L598.69,244.91 L600.15,244.76 L601.61,244.61 L603.07,244.45 L604.53,244.29 L605.99,244.12 L607.45,243.95 L608.91,243.78 L610.37,243.60 L611.84,243.41 L613.30,243.22 L614.76,243.03 L616.22,242.83 L617.68,242.63 L619.14,242.42 L620.60,242.21 L622.06,241.99 L623.52,241.77 L624.98,241.54 L626.44,241.30 L627.90,241.06 L629.37,240.81 L630.83,240.55 L632.29,240.29 L633.75,240.02 L635.21,239.74 L636.67,239.46 L638.13,239.16 L639.59,238.86 L641.05,238.55 L642.51,238.23 L643.97,237.90 L645.43,237.56 L646.89,237.21 L648.36,236.86 L649.82,236.49 L651.28,236.10 L652.74,235.71 L654.20,235.31 L655.66,234.89 L657.12,234.46 L658.58,234.02 L660.04,233.56 L661.50,233.09 L662.96,232.60 L664.42,232.10 L665.89,231.58 L667.35,231.05 L668.81,230.50 L670.27,229.94 L671.73,229.35 L673.19,228.75 L674.65,228.13 L676.11,227.49 L677.57,226.84 L679.03,226.16 L680.49,225.46 L681.95,224.75 L683.42,224.01 L684.88,223.25 L686.34,222.48 L687.80,221.68 L689.26,220.86 L690.72,220.02 L692.18,219.16 L693.64,218.28 L695.10,217.38 L696.56,216.46 L698.02,215.51 L699.48,214.55 L700.94,213.57 L702.41,212.58 L703.87,211.56 L705.33,210.53 L706.79,209.49 L708.25,208.43 L709.71,207.36 L711.17,206.28 L712.63,205.19 L714.09,204.09 L715.55,202.99 L717.01,201.89 L718.47,200.79 L719.94,199.69 L721.40,198.60 L722.86,197.52 L724.32,196.45 L725.78,195.40 L727.24,194.37 L728.70,193.36" stroke="#ff8000" stroke-width="1.75" stroke-dasharray="3.1 3"/>
</g>
<rect x="438.0" y="15.45" width="290.70" height="232.75" fill="none" stroke="#000" stroke-width="1.45"/>
<path d="M488.10,248.2 v-3.9 M488.10,15.45 v3.9 M538.20,248.2 v-3.9 M538.20,15.45 v3.9 M588.30,248.2 v-3.9 M588.30,15.45 v3.9 M638.40,248.2 v-3.9 M638.40,15.45 v3.9 M688.50,248.2 v-3.9 M688.50,15.45 v3.9 M448.02,248.2 v-2.5 M448.02,15.45 v2.5 M458.04,248.2 v-2.5 M458.04,15.45 v2.5 M468.06,248.2 v-2.5 M468.06,15.45 v2.5 M478.08,248.2 v-2.5 M478.08,15.45 v2.5 M498.12,248.2 v-2.5 M498.12,15.45 v2.5 M508.14,248.2 v-2.5 M508.14,15.45 v2.5 M518.16,248.2 v-2.5 M518.16,15.45 v2.5 M528.18,248.2 v-2.5 M528.18,15.45 v2.5 M548.22,248.2 v-2.5 M548.22,15.45 v2.5 M558.24,248.2 v-2.5 M558.24,15.45 v2.5 M568.26,248.2 v-2.5 M568.26,15.45 v2.5 M578.28,248.2 v-2.5 M578.28,15.45 v2.5 M598.32,248.2 v-2.5 M598.32,15.45 v2.5 M608.34,248.2 v-2.5 M608.34,15.45 v2.5 M618.36,248.2 v-2.5 M618.36,15.45 v2.5 M628.38,248.2 v-2.5 M628.38,15.45 v2.5 M648.42,248.2 v-2.5 M648.42,15.45 v2.5 M658.44,248.2 v-2.5 M658.44,15.45 v2.5 M668.46,248.2 v-2.5 M668.46,15.45 v2.5 M678.48,248.2 v-2.5 M678.48,15.45 v2.5 M698.52,248.2 v-2.5 M698.52,15.45 v2.5 M708.54,248.2 v-2.5 M708.54,15.45 v2.5 M718.56,248.2 v-2.5 M718.56,15.45 v2.5 M438.0,211.80 h3.9 M728.7,211.80 h-3.9 M438.0,175.55 h3.9 M728.7,175.55 h-3.9 M438.0,139.30 h3.9 M728.7,139.30 h-3.9 M438.0,103.05 h3.9 M728.7,103.05 h-3.9 M438.0,66.80 h3.9 M728.7,66.80 h-3.9 M438.0,30.55 h3.9 M728.7,30.55 h-3.9 M438.0,240.80 h2.5 M728.7,240.80 h-2.5 M438.0,233.55 h2.5 M728.7,233.55 h-2.5 M438.0,226.30 h2.5 M728.7,226.30 h-2.5 M438.0,219.05 h2.5 M728.7,219.05 h-2.5 M438.0,204.55 h2.5 M728.7,204.55 h-2.5 M438.0,197.30 h2.5 M728.7,197.30 h-2.5 M438.0,190.05 h2.5 M728.7,190.05 h-2.5 M438.0,182.80 h2.5 M728.7,182.80 h-2.5 M438.0,168.30 h2.5 M728.7,168.30 h-2.5 M438.0,161.05 h2.5 M728.7,161.05 h-2.5 M438.0,153.80 h2.5 M728.7,153.80 h-2.5 M438.0,146.55 h2.5 M728.7,146.55 h-2.5 M438.0,132.05 h2.5 M728.7,132.05 h-2.5 M438.0,124.80 h2.5 M728.7,124.80 h-2.5 M438.0,117.55 h2.5 M728.7,117.55 h-2.5 M438.0,110.30 h2.5 M728.7,110.30 h-2.5 M438.0,95.80 h2.5 M728.7,95.80 h-2.5 M438.0,88.55 h2.5 M728.7,88.55 h-2.5 M438.0,81.30 h2.5 M728.7,81.30 h-2.5 M438.0,74.05 h2.5 M728.7,74.05 h-2.5 M438.0,59.55 h2.5 M728.7,59.55 h-2.5 M438.0,52.30 h2.5 M728.7,52.30 h-2.5 M438.0,45.05 h2.5 M728.7,45.05 h-2.5 M438.0,37.80 h2.5 M728.7,37.80 h-2.5 M438.0,23.30 h2.5 M728.7,23.30 h-2.5" stroke="#000" stroke-width="1.15" fill="none"/>
<path d="M444.80,126.0 H474.95" stroke="#0000ff" stroke-width="1.85" fill="none"/>
<text transform="translate(481.83,129.10) scale(1.084,1.000)" class="b" style="font-size:12.5px">Direct</text>
<text transform="translate(521.56,129.10) scale(1.082,1.000)" class="b" style="font-size:12.5px">q</text>
<path d="M445.50,151.8 H474.95" stroke="#0000ff" stroke-width="1.85" stroke-dasharray="3.1 3" fill="none"/>
<text transform="translate(481.93,154.90) scale(1.076,1.000)" class="b" style="font-size:12.5px">Resolved</text>
<text transform="translate(537.27,154.90) scale(1.051,1.000)" class="b" style="font-size:12.5px">q</text>
<path d="M444.80,177.4 H474.95" stroke="#ff8000" stroke-width="1.75" fill="none"/>
<text transform="translate(481.83,180.50) scale(1.084,1.000)" class="b" style="font-size:12.5px">Direct</text>
<text transform="translate(521.76,180.50) scale(1.165,1.000)" class="b" style="font-size:12.5px">g</text>
<path d="M445.50,203.1 H474.95" stroke="#ff8000" stroke-width="1.75" stroke-dasharray="3.1 3" fill="none"/>
<text transform="translate(481.93,206.20) scale(1.076,1.000)" class="b" style="font-size:12.5px">Resolved</text>
<text transform="translate(536.96,206.20) scale(1.183,1.000)" class="b" style="font-size:12.5px">g</text>
<text transform="translate(447.73,42.70) scale(1.089,1.000)" class="b" style="font-size:17px">EIC</text>
<text transform="translate(448.38,70.00) scale(0.897,1.000)" class="it" style="font-size:15.6px">p</text>
<text transform="translate(455.14,71.00) scale(1.219,0.976)" class="it" style="font-size:9.6px">T</text>
<text transform="translate(463.07,70.00) scale(0.967,1.000)" style="font-size:15.6px">(jet)</text>
<text transform="translate(492.28,70.00) scale(1.366,1.000)" style="font-size:15.6px">=</text>
<text transform="translate(507.93,70.00) scale(0.911,1.000)" style="font-size:15.6px">20</text>
<text transform="translate(524.75,70.00) scale(0.877,1.000)" style="font-size:15.6px">GeV</text>
<text x="487.90" y="264.0" class="tk" text-anchor="middle">0.5</text>
<text x="538.00" y="264.0" class="tk" text-anchor="middle">0.6</text>
<text x="588.10" y="264.0" class="tk" text-anchor="middle">0.7</text>
<text x="638.20" y="264.0" class="tk" text-anchor="middle">0.8</text>
<text x="688.30" y="264.0" class="tk" text-anchor="middle">0.9</text>
<text x="435.30" y="252.90" class="tk" text-anchor="end">0</text>
<text x="435.30" y="216.65" class="tk" text-anchor="end">1</text>
<text x="435.30" y="180.40" class="tk" text-anchor="end">2</text>
<text x="435.30" y="144.15" class="tk" text-anchor="end">3</text>
<text x="435.30" y="107.90" class="tk" text-anchor="end">4</text>
<text x="435.30" y="71.65" class="tk" text-anchor="end">5</text>
<text x="435.30" y="35.40" class="tk" text-anchor="end">6</text>
<text transform="translate(580.84,279.60) scale(1.120,1.000)" class="it" style="font-size:14.8px">z</text>
<g transform="translate(413.10,182.1) rotate(-90)">
<text transform="translate(-0.51,0.00) scale(1.018,1.000)" class="it" style="font-size:14.8px">d</text>
<text transform="translate(7.70,0.00) scale(1.007,1.000)" class="it" style="font-size:14.8px">σ</text>
<text transform="translate(10.12,-6.60) scale(0.716,0.505)" style="font-size:11px">^</text>
<text transform="translate(15.67,-5.40) scale(1.662,1.000)" class="it" style="font-size:8.6px">i</text>
<path d="M21.45,2.70 L28.85,-10.90" stroke="#000" stroke-width="0.9" fill="none"/>
<text transform="translate(29.63,0.00) scale(0.945,1.000)" class="it" style="font-size:14.8px">d</text>
<text transform="translate(37.29,0.00) scale(0.788,1.000)" class="it" style="font-size:15.6px">p</text>
<text transform="translate(43.05,1.40) scale(1.048,0.896)" class="it" style="font-size:9.6px">T</text>
<path d="M51.65,2.70 L58.55,-10.90" stroke="#000" stroke-width="0.9" fill="none"/>
<text transform="translate(58.97,0.00) scale(1.062,1.000)" class="it" style="font-size:14.8px">d</text>
<text transform="translate(67.83,0.00) scale(1.049,1.000)" class="it" style="font-size:14.8px">z</text>
<text transform="translate(76.14,0.30) scale(1.058,1.102)" style="font-size:14.8px">(</text>
<text transform="translate(81.14,0.00) scale(1.050,1.000)" style="font-size:14.8px">pb</text>
<text transform="translate(96.52,0.30) scale(0.960,1.102)" style="font-size:14.8px">)</text>
</g>
</svg>
</body></html>
